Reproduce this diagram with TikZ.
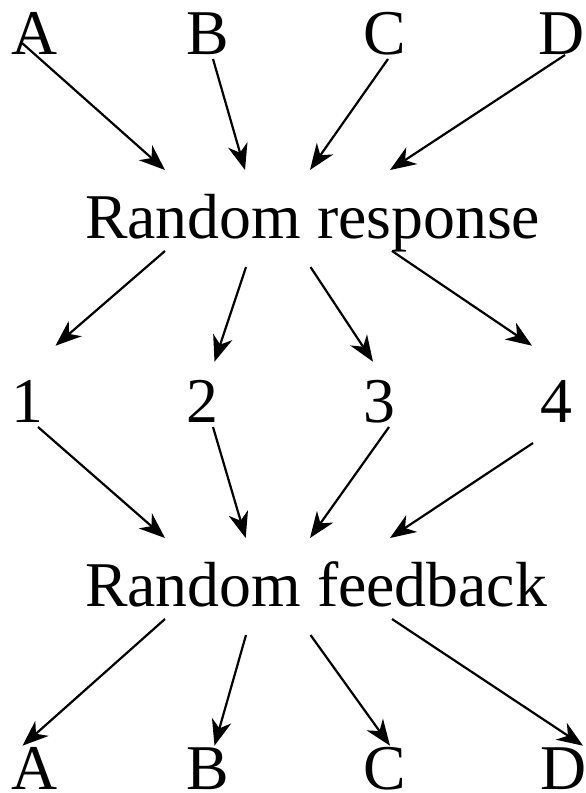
\documentclass[tikz,border=0pt]{standalone}
\usepackage{fontspec}
\setmainfont{Liberation Serif}
\usetikzlibrary{arrows.meta}
\tikzset{
  lbl/.style={inner sep=0pt, outer sep=0pt, anchor=base, font=\fontsize{64}{70}\selectfont},
  wide/.style={lbl, anchor=base west},
  conn/.style={-{Stealth[length=26bp,width=20bp,inset=8bp]}, line width=2.2bp}
}
\begin{document}
\begin{tikzpicture}[x=1bp,y=-1bp]
\useasboundingbox[fill=white] (0,0) rectangle (586,793);
% top row
\node[lbl] (tA) at (35,55) {A};
\node[lbl] (tB) at (208,55) {B};
\node[lbl] (tC) at (385,55) {C};
\node[lbl] (tD) at (562,55) {D};
\node[wide] (resp) at (85,238.5) {Random response};
\node[lbl] (n1) at (27.5,422) {1};
\node[lbl] (n2) at (202.5,422) {2};
\node[lbl] (n3) at (379,422) {3};
\node[lbl] (n4) at (556,422) {4};
\node[wide] (fb) at (85,606) {Random feedback};
\node[lbl] (bA) at (35,789.5) {A};
\node[lbl] (bB) at (208,789.5) {B};
\node[lbl] (bC) at (385,789.5) {C};
\node[lbl] (bD) at (564,789.5) {D};
% top -> response
\draw[conn] ([shift={(-13,-12)}]tA.base) -- ([shift={(80,-68.5)}]resp.base west);
\draw[conn] ([shift={(5,4)}]tB.base) -- ([shift={(160,-68.5)}]resp.base west);
\draw[conn] ([shift={(3,4)}]tC.base) -- ([shift={(225,-68.5)}]resp.base west);
\draw[conn] ([shift={(3,0)}]tD.base) -- ([shift={(305,-68.5)}]resp.base west);
% response -> numbers
\draw[conn] ([shift={(80,12.5)}]resp.base west) -- ([shift={(28,-76.3)}]n1.base);
\draw[conn] ([shift={(161,28.5)}]resp.base west) -- ([shift={(12,-60.3)}]n2.base);
\draw[conn] ([shift={(225.5,28.5)}]resp.base west) -- ([shift={(-6,-60.3)}]n3.base);
\draw[conn] ([shift={(307,12.5)}]resp.base west) -- ([shift={(-24,-76.3)}]n4.base);
% numbers -> feedback
\draw[conn] ([shift={(10.5,5)}]n1.base) -- ([shift={(80,-68)}]fb.base west);
\draw[conn] ([shift={(10.5,5)}]n2.base) -- ([shift={(160.7,-68)}]fb.base west);
\draw[conn] ([shift={(10,5)}]n3.base) -- ([shift={(225,-68)}]fb.base west);
\draw[conn] ([shift={(-23,21)}]n4.base) -- ([shift={(305,-68)}]fb.base west);
% feedback -> bottom
\draw[conn] ([shift={(80,13)}]fb.base west) -- ([shift={(-12.5,-43.8)}]bA.base);
\draw[conn] ([shift={(161,29)}]fb.base west) -- ([shift={(6.5,-43.8)}]bB.base);
\draw[conn] ([shift={(225.5,29)}]fb.base west) -- ([shift={(5,-43.8)}]bC.base);
\draw[conn] ([shift={(307,13)}]fb.base west) -- ([shift={(19,-43.8)}]bD.base);
\end{tikzpicture}
\end{document}
